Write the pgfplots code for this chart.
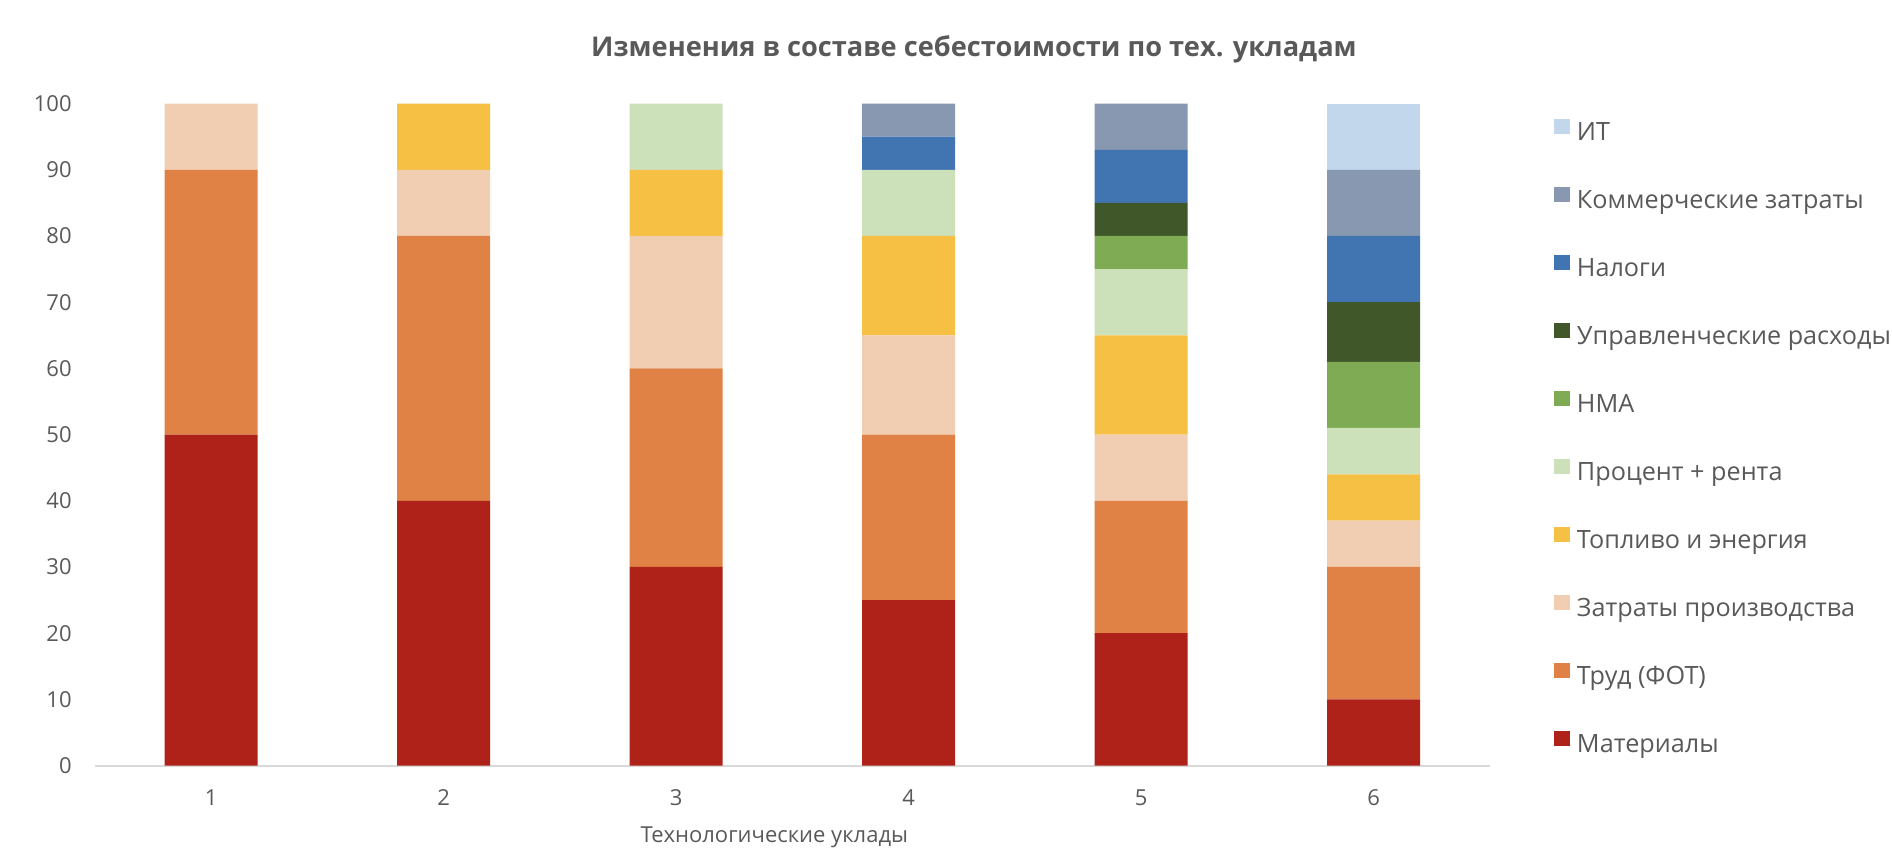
\documentclass[border=0pt]{standalone}
\usepackage{fontspec}
\setmainfont{Open Sans}
\usepackage{pgfplots}
\usepackage{pgfplotstable}
\pgfplotsset{compat=1.18}
\definecolor{cmat}{HTML}{AF221A}
\definecolor{ctrud}{HTML}{E08245}
\definecolor{czatr}{HTML}{F1CDB2}
\definecolor{ctopl}{HTML}{F5C043}
\definecolor{cproc}{HTML}{CCE0B9}
\definecolor{cnma}{HTML}{7FAB55}
\definecolor{cupr}{HTML}{40572A}
\definecolor{cnal}{HTML}{4175B1}
\definecolor{ckomm}{HTML}{8898B0}
\definecolor{cit}{HTML}{C3D7EC}
\definecolor{txt}{HTML}{595959}
\definecolor{axl}{HTML}{D9D9D9}
\pgfplotstableread{
x mat trud zatr topl proc nma upr nal komm it
1 50 40 10 0 0 0 0 0 0 0
2 40 40 10 10 0 0 0 0 0 0
3 30 30 20 10 10 0 0 0 0 0
4 25 25 15 15 10 0 0 5 5 0
5 20 20 10 15 10 5 5 8 7 0
6 10 20 7 7 7 10 9 10 10 10
}\datatable
\begin{document}
\begin{tikzpicture}
\path[use as bounding box] (0,0) rectangle (946pt,427pt);
\begin{axis}[
  at={(47.5pt,44.2pt)}, anchor=south west,
  scale only axis, width=697.5pt, height=331pt,
  ybar stacked, bar width=46.5pt,
  xmin=0.5, xmax=6.5, ymin=0, ymax=100,
  xtick=data, ytick={0,10,...,100},
  axis lines*=left,
  y axis line style={draw=none},
  x axis line style={draw=axl, line width=1pt, -},
  major tick length=0pt,
  /pgf/number format/assume math mode=true,
  tick label style={font=\fontsize{11}{13}\selectfont, text=txt, inner sep=0pt},
  yticklabel style={anchor=east, xshift=-11.5pt},
  xticklabel style={anchor=base, yshift=-20.2pt},
  xlabel={Технологические уклады},
  xlabel style={at={(axis description cs:0.487,0)}, anchor=base, yshift=-38.7pt, inner sep=0pt, font=\fontsize{11}{13}\selectfont, text=txt},
  legend cell align=left,
  reverse legend,
  legend image code/.code={\fill[#1] (0pt,0pt) rectangle (8pt,7.5pt);},
  legend style={draw=none, fill=none, at={(1,0.5)}, anchor=west, xshift=32pt, yshift=-2.3pt,
    inner sep=0pt, outer sep=0pt, row sep=20.2pt, column sep=3.5pt,
    font=\fontsize{12.6}{15}\selectfont, text=txt,
    nodes={inner sep=0pt, text height=9.2pt, text depth=3.4pt}},
  every axis plot/.append style={draw=none},
]
\addplot[fill=cmat] table[x=x,y=mat]{\datatable};
\addlegendentry{Материалы}
\addplot[fill=ctrud] table[x=x,y=trud]{\datatable};
\addlegendentry{Труд (ФОТ)}
\addplot[fill=czatr] table[x=x,y=zatr]{\datatable};
\addlegendentry{Затраты производства}
\addplot[fill=ctopl] table[x=x,y=topl]{\datatable};
\addlegendentry{Топливо и энергия}
\addplot[fill=cproc] table[x=x,y=proc]{\datatable};
\addlegendentry{Процент + рента}
\addplot[fill=cnma] table[x=x,y=nma]{\datatable};
\addlegendentry{НМА}
\addplot[fill=cupr] table[x=x,y=upr]{\datatable};
\addlegendentry{Управленческие расходы}
\addplot[fill=cnal] table[x=x,y=nal]{\datatable};
\addlegendentry{Налоги}
\addplot[fill=ckomm] table[x=x,y=komm]{\datatable};
\addlegendentry{Коммерческие затраты}
\addplot[fill=cit] table[x=x,y=it]{\datatable};
\addlegendentry{ИТ}
\end{axis}
\node[anchor=base, inner sep=0pt, text=txt, font=\bfseries\fontsize{13.6}{16}\selectfont] at (487pt,398.5pt) {Изменения в составе себестоимости по тех. укладам};
\end{tikzpicture}
\end{document}
